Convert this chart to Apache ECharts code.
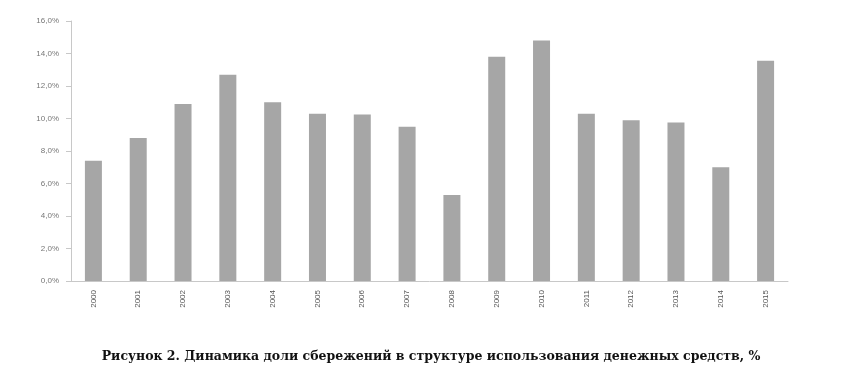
<!DOCTYPE html>
<html><head><meta charset="utf-8">
<script src="https://cdn.jsdelivr.net/npm/echarts@6/dist/echarts.min.js"></script>
<style>html,body{margin:0;padding:0;background:#fff}#c{width:862px;height:367px}</style>
</head><body><div id="c"></div>
<script>
const years = ['2000','2001','2002','2003','2004','2005','2006','2007','2008','2009','2010','2011','2012','2013','2014','2015'];
const shares = [7.4, 8.8, 10.9, 12.7, 11.0, 10.3, 10.25, 9.5, 5.3, 13.8, 14.8, 10.3, 9.9, 9.75, 7.0, 13.55];
const yTicks = {min: 0, max: 16, interval: 2};
const caption = 'Рисунок 2. Динамика доли сбережений в структуре использования денежных средств, %';

const chart = echarts.init(document.getElementById('c'), null, {renderer: 'canvas'});
chart.setOption({
  animation: false,
  backgroundColor: '#fff',
  grid: {left: 71, right: 74, top: 21, bottom: 86},
  title: {
    text: caption, left: 'center', top: 345,
    textStyle: {fontFamily: 'DejaVu Serif', fontWeight: 'bold', fontSize: 12.5, color: '#111'}
  },
  xAxis: {
    type: 'category', data: years,
    axisLine: {lineStyle: {color: '#c8c8c8', width: 1}},
    axisTick: {show: false},
    axisLabel: {rotate: 90, fontSize: 8, color: '#555', fontFamily: 'Liberation Sans', margin: 9, interval: 0}
  },
  yAxis: {
    type: 'value', min: yTicks.min, max: yTicks.max, interval: yTicks.interval,
    axisLine: {show: true, lineStyle: {color: '#c8c8c8'}},
    axisTick: {show: true, length: 5, lineStyle: {color: '#c8c8c8'}},
    splitLine: {show: false},
    axisLabel: {fontSize: 8, color: '#777', fontFamily: 'Liberation Sans', margin: 12,
      formatter: v => v.toFixed(1).replace('.', ',') + '%'}
  },
  series: [{
    type: 'bar', data: shares, barWidth: 17,
    itemStyle: {color: '#a6a6a6'}
  }]
});
</script></body></html>
